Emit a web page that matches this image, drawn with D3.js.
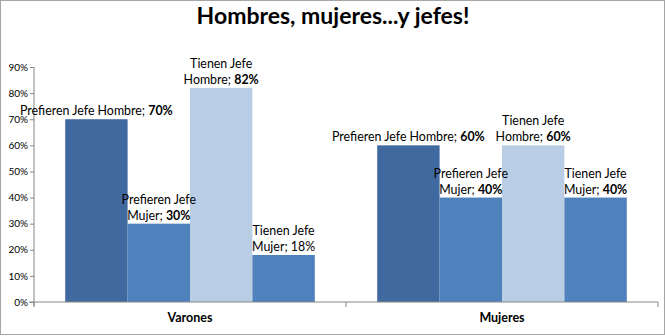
<!DOCTYPE html>
<html>
<head>
<meta charset="utf-8">
<script src="https://cdn.jsdelivr.net/npm/d3@7"></script>
<style>
  html, body { margin: 0; padding: 0; background: #fff; }
  svg { display: block; }
  text { font-family: Lato, "Open Sans", sans-serif; fill: #000; }
</style>
</head>
<body>
<svg id="chart" width="665" height="336"></svg>
<script>
const title = "Hombres, mujeres...y jefes!";
const categories = ["Varones", "Mujeres"];
const seriesNames = ["Prefieren Jefe Hombre", "Prefieren Jefe Mujer", "Tienen Jefe Hombre", "Tienen Jefe Mujer"];
const prefierenHombre = [70, 60];
const prefierenMujer = [30, 40];
const tienenHombre = [82, 60];
const tienenMujer = [18, 40];
const yTicks = [0, 10, 20, 30, 40, 50, 60, 70, 80, 90];

const seriesValues = [prefierenHombre, prefierenMujer, tienenHombre, tienenMujer];
const colors = ["#4069a0", "#4f81bd", "#b9cde5", "#4f81bd"];

const W = 665, H = 336;
const margin = { left: 34, right: 7, top: 67, bottom: 34 };
const svg = d3.select("#chart");

// outer border
svg.append("rect").attr("x", 0.5).attr("y", 0.5).attr("width", W - 1).attr("height", H - 2)
  .attr("fill", "#fff").attr("stroke", "#a6a6a6");

const x0 = d3.scaleBand().domain(categories)
  .range([margin.left, W - margin.right]).paddingInner(0.2).paddingOuter(0.1);
const x1 = d3.scaleBand().domain(d3.range(seriesNames.length)).range([0, x0.bandwidth()]);
const y = d3.scaleLinear().domain([0, 90]).range([H - margin.bottom, margin.top]);

// title
svg.append("text").attr("x", W / 2 + 0.5).attr("y", 24).attr("text-anchor", "middle")
  .attr("font-weight", "bold").attr("font-size", 23).text(title);

// bars
const data = [];
categories.forEach((c, ci) => seriesValues.forEach((vals, si) => data.push({ c, ci, si, v: vals[ci] })));

svg.append("g").selectAll("rect").data(data).join("rect")
  .attr("x", d => x0(d.c) + x1(d.si))
  .attr("width", x1.bandwidth())
  .attr("y", d => y(d.v))
  .attr("height", d => y(0) - y(d.v))
  .attr("fill", d => colors[d.si]);

// y axis
const yAxis = svg.append("g").attr("transform", `translate(${margin.left},0)`)
  .call(d3.axisLeft(y).tickValues(yTicks).tickFormat(d => d + "%").tickSize(4).tickSizeOuter(0));
yAxis.select(".domain").attr("stroke", "#868686").attr("d", `M0,${y(90)}V${y(0) + 4}`);
yAxis.selectAll(".tick line").attr("stroke", "#868686");
yAxis.selectAll(".tick text").attr("font-size", 10).attr("font-family", "Lato, sans-serif").attr("fill", "#000").attr("x", -6);

// x axis
const xAxisG = svg.append("g").attr("transform", `translate(0,${y(0)})`);
const xr = x0.range();
xAxisG.append("line").attr("x1", xr[0] - 5).attr("x2", xr[1]).attr("y1", 0).attr("y2", 0).attr("stroke", "#868686");
xAxisG.selectAll("line.tk").data(d3.range(categories.length + 1)).join("line").attr("class", "tk")
  .attr("x1", i => xr[0] + i * (xr[1] - xr[0]) / categories.length)
  .attr("x2", i => xr[0] + i * (xr[1] - xr[0]) / categories.length)
  .attr("y1", 0).attr("y2", 5).attr("stroke", "#868686");
xAxisG.selectAll("text").data(categories).join("text")
  .attr("x", d => x0(d) + x0.bandwidth() / 2).attr("y", 20)
  .attr("text-anchor", "middle").attr("font-weight", "bold").attr("font-size", 12.5).text(d => d);

// data labels
const labels = svg.append("g");
data.forEach(d => {
  const cx = x0(d.c) + x1(d.si) + x1.bandwidth() / 2;
  const top = y(d.v);
  const name = seriesNames[d.si];
  const bold = !(d.si === 3 && d.ci === 0);
  const words = name.split(" ");
  let lines;
  if (d.si === 0) lines = [[name + "; ", d.v + "%"]];
  else lines = [[words.slice(0, -1).join(" "), null], [words[words.length - 1] + "; ", d.v + "%"]];
  const t = labels.append("text").attr("text-anchor", "middle").attr("font-size", 12.4);
  lines.forEach((ln, li) => {
    const yy = top - 4 - (lines.length - 1 - li) * 16;
    const ts = t.append("tspan").attr("x", cx).attr("y", yy);
    ts.append("tspan").text(ln[0]);
    if (ln[1] !== null) ts.append("tspan").attr("font-weight", bold ? "bold" : "normal").text(ln[1]);
  });
});
</script>
</body>
</html>
